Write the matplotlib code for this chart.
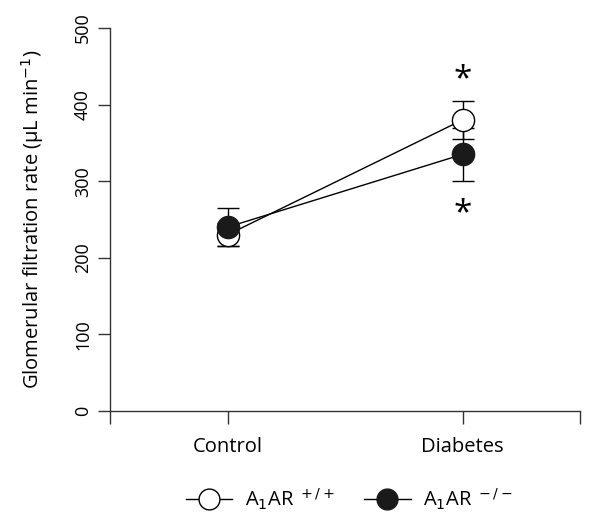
import matplotlib
matplotlib.use("Agg")
import matplotlib.pyplot as plt
from matplotlib.lines import Line2D

# ── Data ──────────────────────────────────────────────────────────────────────
groups = ["Control", "Diabetes"]
xpos = [1, 2]
wt_mean = [230, 380]      # A1AR +/+
wt_err = [15, 25]
ko_mean = [240, 335]      # A1AR -/-
ko_err = [25, 35]
sig_y = [432, 258]        # asterisk positions at Diabetes

plt.rcParams["font.family"] = ["Open Sans", "DejaVu Sans"]

fig = plt.figure(figsize=(6.01, 5.28), dpi=100)
ax = fig.add_axes([110 / 601, 1 - 411 / 528, 470 / 601, 383 / 528])

ms = 16
ax.errorbar(xpos, wt_mean, yerr=wt_err, fmt="none", ecolor="black",
            elinewidth=1, capsize=8, capthick=1, zorder=2)
ax.errorbar(xpos, ko_mean, yerr=ko_err, fmt="none", ecolor="black",
            elinewidth=1, capsize=8, capthick=1, zorder=2)
ax.plot(xpos, wt_mean, color="black", lw=1, marker="o", ms=ms,
        mfc="white", mec="black", mew=1, zorder=3, clip_on=False)
ax.plot(xpos, ko_mean, color="black", lw=1, marker="o", ms=ms,
        mfc="#1a1a1a", mec="#1a1a1a", mew=1, zorder=4, clip_on=False)

for y in sig_y:
    ax.text(2, y, "*", ha="center", va="center", fontsize=24)

ax.set_xlim(0.5, 2.5)
ax.set_ylim(0, 500)
ax.set_xticks([0.5, 1, 2, 2.5])
ax.set_xticklabels(["", groups[0], groups[1], ""], fontsize=14.5)
ax.set_yticks([0, 100, 200, 300, 400, 500])
ax.set_yticklabels(["0", "100", "200", "300", "400", "500"], fontsize=13,
                   rotation=90, va="center")
ax.tick_params(axis="both", direction="out", length=9, width=1, color="#333333")
ax.tick_params(axis="x", pad=10)
ax.tick_params(axis="y", pad=4)
for s in ["top", "right"]:
    ax.spines[s].set_visible(False)
for s in ["left", "bottom"]:
    ax.spines[s].set_linewidth(1)
    ax.spines[s].set_color("#333333")

ax.set_ylabel("Glomerular filtration rate (µL min$^{-1}$)", fontsize=14.5, labelpad=20)

h_wt = Line2D([], [], color="black", lw=1, marker="o", ms=15, mfc="white", mec="black")
h_ko = Line2D([], [], color="black", lw=1, marker="o", ms=15, mfc="#1a1a1a", mec="#1a1a1a")
fig.legend([h_wt, h_ko], ["A$_1$AR$^{\\ +/+}$", "A$_1$AR$^{\\ -/-}$"],
           loc="center left", bbox_to_anchor=(168 / 601, 1 - 499 / 528), ncol=2,
           frameon=False, fontsize=14.5, handlelength=2.3, handletextpad=0.6,
           columnspacing=1.5)

fig.savefig("out.png", dpi=100)
